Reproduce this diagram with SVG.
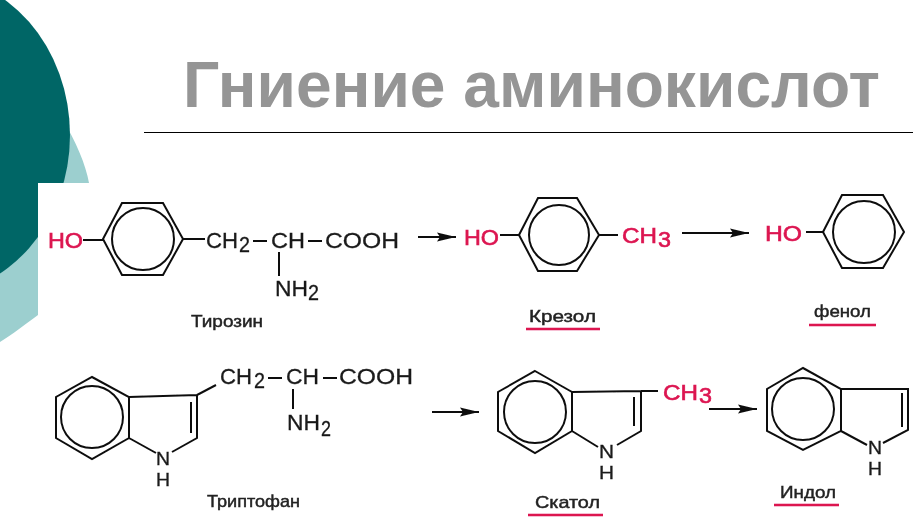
<svg xmlns="http://www.w3.org/2000/svg" width="921" height="529" viewBox="0 0 921 529">
<defs>
<filter id="soft" x="-5%" y="-5%" width="110%" height="110%"><feGaussianBlur stdDeviation="0.4"/></filter>
<filter id="titleblur" x="-5%" y="-20%" width="110%" height="140%"><feGaussianBlur stdDeviation="0.6"/></filter>
<marker id="head" markerUnits="userSpaceOnUse" markerWidth="20" markerHeight="12" refX="19" refY="6" orient="auto"><path d="M0,1.5 L19,6 L0,10.5 L3,6 Z" fill="#111"/></marker>
</defs>
<style>
.bond{fill:none;stroke:#111;stroke-width:2}
.t{font-family:"Liberation Sans",Arial,sans-serif;font-size:22px;fill:#1a1a1a;stroke:#1a1a1a;stroke-width:.3}
.a{font-size:18px}
.r{fill:#dc1450;stroke:#dc1450;stroke-width:.6}
.l{font-family:"Liberation Sans",Arial,sans-serif;font-size:17px;fill:#222;stroke:#222;stroke-width:.45}
.u{fill:none;stroke:#dc1450;stroke-width:2.6}
.arr{fill:none;stroke:#111;stroke-width:2;marker-end:url(#head)}
</style>
<rect width="921" height="529" fill="#ffffff"/>
<g id="background">
<path d="M62,118 C76,142 86,165 89,183 L38,183 L38,315 C28,322 12,335 0,342 L0,180 Z" fill="#9ccfcf"/>
<ellipse cx="-70" cy="135" rx="140" ry="160" fill="#006666"/>
<rect x="38" y="183" width="60" height="160" fill="#ffffff"/>
</g>
<g id="title">
<text x="183" y="107" font-family="'Liberation Sans',Arial,sans-serif" font-weight="700" font-size="64" fill="#959595" textLength="697" lengthAdjust="spacingAndGlyphs" filter="url(#titleblur)">Гниение аминокислот</text>
<line x1="144" y1="132.5" x2="913" y2="132.5" stroke="#000" stroke-width="1"/>
</g>
<g filter="url(#soft)">
<g id="connectors">
<line class="arr" x1="418" y1="237" x2="456" y2="237"/>
<line class="arr" x1="682" y1="233" x2="749" y2="233"/>
<line class="arr" x1="432" y1="412" x2="479" y2="412"/>
<line class="arr" x1="709" y1="409" x2="757" y2="409"/>
</g>
<g id="tyrosine">
<path class="bond" d="M103,239 L122,203 H163 L183,239 L163,275 H122 Z M83,240 H103 M183,239 H205 M253,241 H267 M308,241 H322 M279,252 V276"/>
<circle class="bond" cx="143" cy="239" r="31"/>
<text class="t r" x="48" y="248" textLength="35" lengthAdjust="spacingAndGlyphs">HO</text>
<text class="t" x="206" y="248" textLength="32" lengthAdjust="spacingAndGlyphs">CH</text>
<text class="t" x="239" y="252" textLength="11" lengthAdjust="spacingAndGlyphs">2</text>
<text class="t" x="271" y="248" textLength="34" lengthAdjust="spacingAndGlyphs">CH</text>
<text class="t" x="325" y="248" textLength="74" lengthAdjust="spacingAndGlyphs">COOH</text>
<text class="t" x="275" y="296" textLength="33" lengthAdjust="spacingAndGlyphs">NH</text>
<text class="t" x="308" y="300" textLength="11" lengthAdjust="spacingAndGlyphs">2</text>
<text class="l" x="191" y="327" textLength="72" lengthAdjust="spacingAndGlyphs">Тирозин</text>
</g>
<g id="cresol">
<path class="bond" d="M519,235 L538,198 H577 L599,235 L577,271 H538 Z M500,235 H519 M599,235 H618"/>
<circle class="bond" cx="559" cy="235" r="30"/>
<text class="t r" x="464" y="245" textLength="35" lengthAdjust="spacingAndGlyphs">HO</text>
<text class="t r" x="622" y="243" textLength="35" lengthAdjust="spacingAndGlyphs">CH</text>
<text class="t r" x="658" y="247" textLength="13" lengthAdjust="spacingAndGlyphs">3</text>
<text class="l" x="529" y="322" textLength="67" lengthAdjust="spacingAndGlyphs">Крезол</text>
<line class="u" x1="526" y1="329" x2="600" y2="329"/>
</g>
<g id="phenol">
<path class="bond" d="M823,232 L842,195 H883 L904,232 L883,268 H842 Z M806,232 H823"/>
<circle class="bond" cx="864" cy="232" r="31"/>
<text class="t r" x="765" y="241" textLength="37" lengthAdjust="spacingAndGlyphs">HO</text>
<text class="l" x="814" y="317" textLength="57" lengthAdjust="spacingAndGlyphs">фенол</text>
<line class="u" x1="809" y1="325" x2="876" y2="325"/>
</g>
<g id="tryptophan">
<path class="bond" d="M92,377 L129,397 V438 L92,459 L56,438 V397 Z M129,397 L197,395 V438 L172,452 M129,438 L156,453 M191,402 V433 M197,395 L216,385 M268,378 H282 M323,378 H337 M293,389 V409"/>
<circle class="bond" cx="92" cy="417" r="31"/>
<text class="t a" x="156" y="465" textLength="14" lengthAdjust="spacingAndGlyphs">N</text>
<text class="t a" x="156" y="485.5" textLength="14" lengthAdjust="spacingAndGlyphs">H</text>
<text class="t" x="220" y="384" textLength="32" lengthAdjust="spacingAndGlyphs">CH</text>
<text class="t" x="254" y="388" textLength="11" lengthAdjust="spacingAndGlyphs">2</text>
<text class="t" x="286" y="384" textLength="33" lengthAdjust="spacingAndGlyphs">CH</text>
<text class="t" x="339" y="384" textLength="74" lengthAdjust="spacingAndGlyphs">COOH</text>
<text class="t" x="287" y="430" textLength="33" lengthAdjust="spacingAndGlyphs">NH</text>
<text class="t" x="321" y="436" textLength="10" lengthAdjust="spacingAndGlyphs">2</text>
<text class="l" x="207" y="507" textLength="93" lengthAdjust="spacingAndGlyphs">Триптофан</text>
</g>
<g id="skatole">
<path class="bond" d="M535,371 L572,392 V431 L535,453 L498,431 V392 Z M572,392 L641,391 V431 L617,445 M572,431 L598,447 M634,397 V426 M641,391 H658"/>
<circle class="bond" cx="535" cy="412" r="31"/>
<text class="t a" x="599" y="458" textLength="15" lengthAdjust="spacingAndGlyphs">N</text>
<text class="t a" x="599" y="479" textLength="15" lengthAdjust="spacingAndGlyphs">H</text>
<text class="t r" x="663" y="400" textLength="35" lengthAdjust="spacingAndGlyphs">CH</text>
<text class="t r" x="699" y="403" textLength="13" lengthAdjust="spacingAndGlyphs">3</text>
<text class="l" x="535" y="508" textLength="65" lengthAdjust="spacingAndGlyphs">Скатол</text>
<line class="u" x1="528" y1="515" x2="603" y2="515"/>
</g>
<g id="indole">
<path class="bond" d="M803,368 L841,389 V431 L803,450 L767,431 V389 Z M841,389 H908 V430 L883,443 M841,431 L867,445 M902,393 V427"/>
<circle class="bond" cx="803" cy="409" r="31"/>
<text class="t a" x="868" y="454" textLength="14" lengthAdjust="spacingAndGlyphs">N</text>
<text class="t a" x="868" y="474.5" textLength="14" lengthAdjust="spacingAndGlyphs">H</text>
<text class="l" x="780" y="498" textLength="56" lengthAdjust="spacingAndGlyphs">Индол</text>
<line class="u" x1="774" y1="505" x2="839" y2="505"/>
</g>
</g>
</svg>
